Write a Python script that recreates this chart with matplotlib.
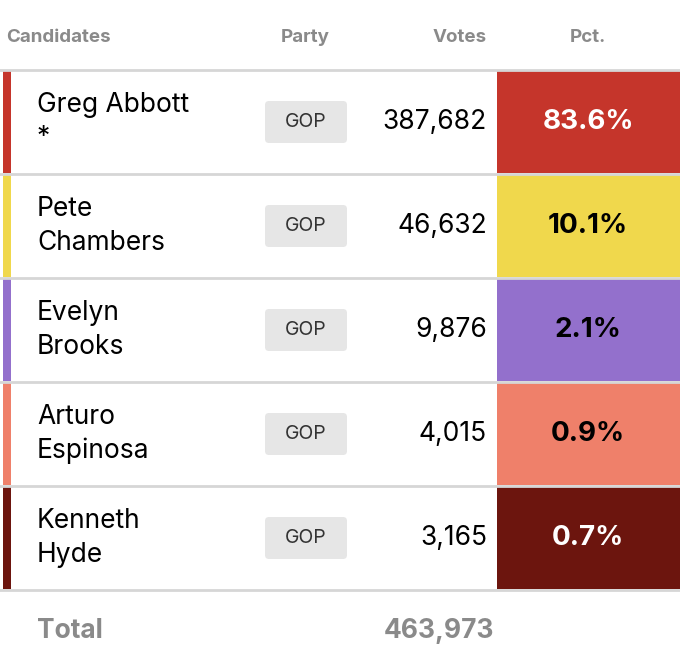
import matplotlib
matplotlib.use('Agg')
from matplotlib import pyplot as plt
from matplotlib import patches

names = ['Greg Abbott\n*', 'Pete\nChambers', 'Evelyn\nBrooks', 'Arturo\nEspinosa', 'Kenneth\nHyde']
parties = ['GOP', 'GOP', 'GOP', 'GOP', 'GOP']
votes = [387682, 46632, 9876, 4015, 3165]
pcts = [83.6, 10.1, 2.1, 0.9, 0.7]
colors = ['#c5352b', '#f0d84c', '#9370cc', '#ef806a', '#6c150e']
text_colors = ['white', 'black', 'black', 'black', 'white']
total = 463973

plt.rcParams['font.family'] = ['Inter', 'DejaVu Sans']

fig = plt.figure(figsize=(6.8, 6.64), dpi=100)
ax = fig.add_axes([0, 0, 1, 1])
ax.set_xlim(0, 680)
ax.set_ylim(664, 0)
ax.axis('off')

grey = '#8a8a8a'
ax.text(6, 37, 'Candidates', fontsize=13.5, fontweight='bold', color=grey, va='center')
ax.text(305, 37, 'Party', fontsize=13.5, fontweight='bold', color=grey, va='center', ha='center')
ax.text(487, 37, 'Votes', fontsize=13.5, fontweight='bold', color=grey, va='center', ha='right')
ax.text(588, 37, 'Pct.', fontsize=13.5, fontweight='bold', color=grey, va='center', ha='center')

top = 70
h = 104
line_c = '#d6d6d6'
ax.plot([0, 680], [top, top], color=line_c, lw=2)
for i, name in enumerate(names):
    y0 = top + i * h
    yc = y0 + h / 2
    ax.add_patch(patches.Rectangle((3, y0 + 1), 8, h - 2, color=colors[i], lw=0))
    ax.add_patch(patches.Rectangle((497, y0 + 1), 183, h - 2, color=colors[i], lw=0))
    ax.text(37, yc, name, fontsize=19, va='center', ha='left', linespacing=1.35)
    ax.add_patch(patches.FancyBboxPatch((265, yc - 21), 82, 42,
                 boxstyle='round,pad=0,rounding_size=4', color='#e6e6e6', lw=0))
    ax.text(306, yc, parties[i], fontsize=14, va='center', ha='center', color='#333333')
    ax.text(487, yc, f'{votes[i]:,}', fontsize=19, va='center', ha='right')
    ax.text(588, yc, f'{pcts[i]:.1f}%', fontsize=20, fontweight='bold', va='center',
            ha='center', color=text_colors[i])
    ax.plot([0, 680], [y0 + h, y0 + h], color=line_c, lw=2)

ax.text(37, 631, 'Total', fontsize=19, fontweight='bold', color=grey, va='center')
ax.text(494, 631, f'{total:,}', fontsize=19, fontweight='bold', color=grey, va='center', ha='right')

fig.savefig('out.png', dpi=100)
